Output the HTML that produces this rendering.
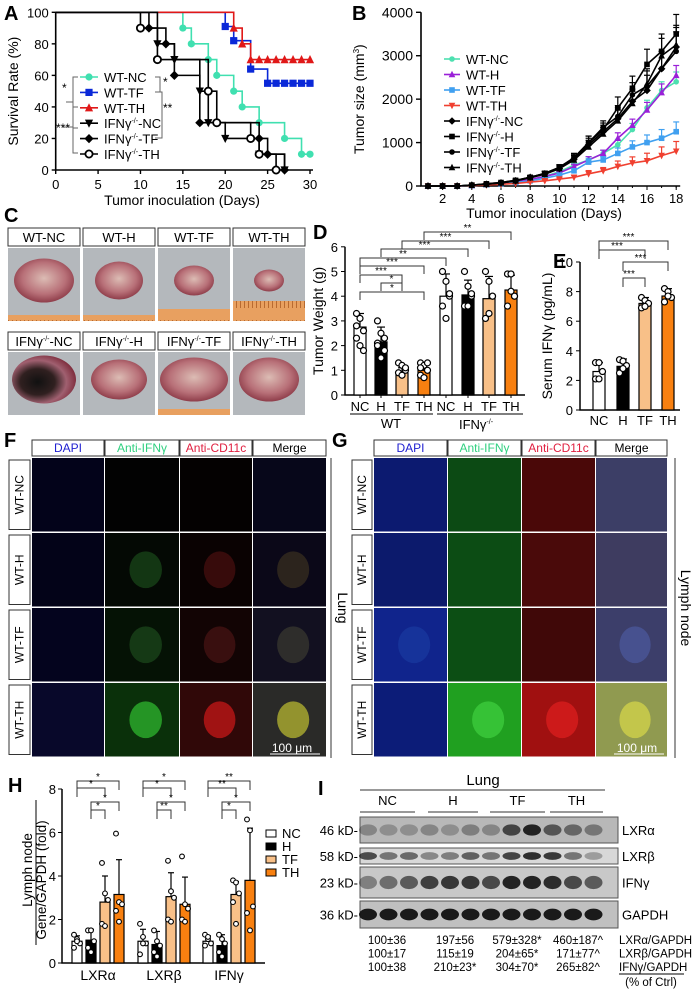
<!DOCTYPE html>
<html><head><meta charset="utf-8">
<style>
body{margin:0;background:#fff;}
svg{display:block;font-family:"Liberation Sans",Arial,sans-serif;}
</style></head>
<body>
<svg id="fig" width="696" height="995" viewBox="0 0 696 995" xmlns="http://www.w3.org/2000/svg">
<defs>
<radialGradient id="tum" cx="50%" cy="45%" r="60%"><stop offset="0" stop-color="#dcbcb4"/><stop offset="0.6" stop-color="#b87078"/><stop offset="1" stop-color="#84303e"/></radialGradient>
<radialGradient id="tumd" cx="40%" cy="55%" r="60%"><stop offset="0" stop-color="#111"/><stop offset="0.45" stop-color="#302020"/><stop offset="0.75" stop-color="#a06070"/><stop offset="1" stop-color="#803040"/></radialGradient>
<pattern id="ruler" width="4" height="20" patternUnits="userSpaceOnUse"><rect width="4" height="20" fill="#e8a060"/><rect width="1" height="8" fill="#b86a30"/></pattern>
</defs>

<g font-size="20" font-weight="bold">
<text x="4" y="20">A</text>
<text x="352" y="20">B</text>
<text x="4" y="222">C</text>
<text x="313" y="239">D</text>
<text x="553" y="268">E</text>
<text x="4" y="447">F</text>
<text x="332" y="447">G</text>
<text x="8" y="792">H</text>
<text x="318" y="795">I</text>
</g>

<g id="gA"></g>
<g id="gB"></g>
<g id="gC"></g>
<g id="gD"></g>
<g id="gE"></g>
<g id="gF"></g>
<g id="gH"></g>
<g id="gI"></g>
</svg>
<script>
// ---------- DATA ----------
const aNames = ["WT-NC","WT-TF","WT-TH","IFNγ-/--NC","IFNγ-/--TF","IFNγ-/--TH"];
const aTealT = [15,16,18,19,21,22,24,27,29];
const aTealV = [90,80,70,60,50,40,30,20,10];
const aBlueT = [20,21,23,25];
const aBlueV = [91,82,64,55];
const aRedT = [21,22,23];
const aRedV = [90,80,70];
const aKoNcT = [12,14,17,18,20,24,27];
const aKoNcV = [80,70,50,30,20,10,0];
const aKoTfT = [11,13,14,17,24,25,27];
const aKoTfV = [90,80,60,30,20,10,0];
const aKoThT = [10,12,18,19,23,24,26];
const aKoThV = [90,70,50,30,20,10,0];
const aXTicks = [0,5,10,15,20,25,30];
const aYTicks = [0,20,40,60,80,100];
const bDays = [1,2,3,4,5,6,7,8,9,10,11,12,13,14,15,16,17,18];
const bWtNc = [0,0,0,10,30,60,100,150,220,330,480,600,750,950,1300,1800,2200,2400];
const bWtH  = [0,0,0,10,30,60,100,150,220,300,450,600,750,1100,1400,1750,2150,2550];
const bWtTf = [0,0,0,10,30,50,80,120,180,250,350,550,600,750,900,1000,1100,1250];
const bWtTh = [0,0,0,10,20,40,60,90,120,160,200,280,350,450,530,580,700,800];
const bKoNc = [0,0,0,20,40,70,120,200,280,400,620,950,1250,1550,1950,2200,2700,3200];
const bKoH  = [0,0,0,20,50,80,130,200,290,430,650,1000,1300,1800,2250,2800,3100,3500];
const bKoTf = [0,0,0,20,50,80,130,200,290,430,650,1000,1350,1600,2100,2300,2700,3100];
const bKoTh = [0,0,0,20,40,70,120,190,270,400,600,900,1200,1500,1900,2350,3000,3250];
const bErr = [0,0,0,10,10,20,30,40,50,60,100,150,150,250,280,350,400,450];
const bXTicks = [2,4,6,8,10,12,14,16,18];
const bYTicks = [0,1000,2000,3000,4000];
const dCats = ["NC","H","TF","TH","NC","H","TF","TH"];
const dVals = [2.75,2.15,0.9,1.0,4.0,4.05,3.9,4.25];
const dErr  = [0.55,0.6,0.2,0.25,0.9,0.6,0.9,0.6];
const dPts = [[3.3,3.1,2.6,2.3,2.0,1.8,2.8],[3.0,2.5,2.3,2.1,1.5,1.8,2.0],[1.3,1.2,1.0,0.9,0.8,1.1],[1.3,1.2,1.0,0.8,0.7,1.3,1.1],[5.0,4.6,4.0,3.6,3.1,4.1],[5.0,4.4,4.0,3.6,3.6,4.1],[5.0,4.6,4.0,3.1,3.3,4.0],[4.9,4.9,4.0,3.6,4.2,4.0]];
const dYTicks = [0,1,2,3,4,5,6];
const eCats = ["NC","H","TF","TH"];
const eVals = [2.6,2.95,7.2,7.7];
const eErr  = [0.6,0.5,0.4,0.5];
const ePts = [[3.2,3.2,2.6,2.1,2.1],[3.4,3.3,3.0,2.5,2.8],[7.6,7.4,7.2,6.9,7.0],[8.2,8.0,7.6,7.3,7.7]];
const eYTicks = [0,2,4,6,8,10];
const hGenes = ["LXRα","LXRβ","IFNγ"];
const hGroups = ["NC","H","TF","TH"];
const hNC = [1.0,1.0,1.0];
const hH  = [1.05,0.85,0.8];
const hTF = [2.8,3.05,3.15];
const hTH = [3.15,2.7,3.8];
const hErrNC=[0.25,0.55,0.25], hErrH=[0.5,0.6,0.5], hErrTF=[1.2,1.1,0.6], hErrTH=[1.6,1.25,2.4];
const hPtsNC=[[1.3,1.1,0.9,0.7,1.0],[1.8,1.2,0.9,0.4,0.9],[1.3,1.1,0.9,0.8,1.2]];
const hPtsH =[[1.5,1.5,1.0,0.7,0.5],[1.5,1.0,0.8,0.5,0.3],[1.3,1.1,0.9,0.5,0.3]];
const hPtsTF=[[4.6,3.2,2.9,1.8,1.7],[4.7,3.3,3.0,2.0,1.9],[3.8,3.7,3.2,2.8,1.8]];
const hPtsTH=[[5.95,2.8,2.7,2.4,1.9],[4.9,2.7,2.5,2.0,1.9],[6.6,6.1,2.6,2.3,1.5]];
const hYTicks=[0,2,4,6,8];

const NS="http://www.w3.org/2000/svg";
function mk(tag,parent,attrs){const e=document.createElementNS(NS,tag);for(const k in attrs)e.setAttribute(k,attrs[k]);parent.appendChild(e);return e;}
function txt(parent,x,y,s,attrs){const t=mk('text',parent,Object.assign({x:x,y:y},attrs||{}));t.textContent=s;return t;}
function marker(g,type,x,y,col,r){
  r=r||4;let e;
  if(type==='circle') e=mk('circle',g,{cx:x,cy:y,r:r,fill:col});
  else if(type==='ocircle') e=mk('circle',g,{cx:x,cy:y,r:r,fill:'#fff',stroke:col,'stroke-width':1.8});
  else if(type==='square') e=mk('rect',g,{x:x-r,y:y-r,width:2*r,height:2*r,fill:col});
  else if(type==='tri') e=mk('path',g,{d:`M${x},${y-r-1}L${x+r+0.5},${y+r}L${x-r-0.5},${y+r}Z`,fill:col});
  else if(type==='tridown') e=mk('path',g,{d:`M${x},${y+r+1}L${x+r+0.5},${y-r}L${x-r-0.5},${y-r}Z`,fill:col});
  else e=mk('path',g,{d:`M${x},${y-r-1}L${x+r+1},${y}L${x},${y+r+1}L${x-r-1},${y}Z`,fill:col});
  return e;
}

// ---------- Panel A ----------
(function(){
const g=document.getElementById('gA');
const xA=d=>55.7+d*(310-55.7)/30, yA=v=>170-v*1.577;
const ax=mk('path',g,{d:`M${xA(0)},${yA(100)}V${yA(0)}H${xA(30)+3}`,stroke:'#000','stroke-width':1.6,fill:'none'});


aXTicks.forEach(t=>{mk('line',g,{x1:xA(t),x2:xA(t),y1:yA(0),y2:yA(0)+4,stroke:'#000','stroke-width':1.4});
 const l=txt(g,xA(t),yA(0)+19,String(t),{'font-size':13,'text-anchor':'middle'});
 
 });
aYTicks.forEach(t=>{mk('line',g,{x1:xA(0)-4,x2:xA(0),y1:yA(t),y2:yA(t),stroke:'#000','stroke-width':1.4});
 const l=txt(g,xA(0)-7,yA(t)+5,String(t),{'font-size':13,'text-anchor':'end'});
 
 });
const yt=txt(g,0,0,'Survival Rate (%)',{'font-size':14,'text-anchor':'middle',transform:`translate(18,${yA(50)}) rotate(-90)`});


const xt=txt(g,182,205,'Tumor inoculation (Days)',{'font-size':14,'text-anchor':'middle'});


const series=[[aTealT,aTealV,'#40e0b0','circle',30,[]],[aBlueT,aBlueV,'#0a28d8','square',30,[26,27,28,29,30]],[aRedT,aRedV,'#e01818','tri',30,[24,25,26,27,28,29,30]],
 [aKoNcT,aKoNcV,'#000','tridown',27,[]],[aKoTfT,aKoTfV,'#000','diamond',27,[]],[aKoThT,aKoThV,'#000','ocircle',26,[]]];
series.forEach((s,i)=>{
 const [T,V,col,mt,end,cens]=s;
 let d=`M${xA(0)},${yA(100)}`;let last=100;
 T.forEach((t,j)=>{d+=`H${xA(t)}V${yA(V[j])}`;last=V[j];});
 d+=`H${xA(end)}`;
 const p=mk('path',g,{d:d,stroke:col,'stroke-width':1.6,fill:'none'});
 
 
 T.forEach((t,j)=>{const m=marker(g,mt,xA(t),yA(V[j]),col,3.6);
  
  });
 cens.forEach(t=>{const m=marker(g,mt,xA(t),yA(last),col,3.6);
  
  });
 if(i===0){const m=marker(g,mt,xA(30),yA(last),col,3.6);
  
  }
 const ly=77+i*15.4;
 const lg=mk('g',g,{});
 
 
 mk('line',lg,{x1:80,x2:98,y1:ly,y2:ly,stroke:col,'stroke-width':1.6});
 marker(lg,mt,89,ly,col,3.6);
 const lab=txt(lg,104,ly+5,'',{'font-size':13});
 if(i<3) lab.textContent=aNames[i];
 else{lab.appendChild(document.createTextNode('IFNγ'));const sp=mk('tspan',lab,{'font-size':7,dy:-5});sp.textContent='-/-';const sp2=mk('tspan',lab,{dy:5});sp2.textContent=aNames[i].slice(-3);}
});
mk('path',g,{d:'M78,77H73V128H78 M73,102H66',stroke:'#666','stroke-width':1,fill:'none'});
mk('path',g,{d:'M78,107H73V153H78 M73,127H62',stroke:'#666','stroke-width':1,fill:'none'});
mk('path',g,{d:'M155,77H160V92H155 M155,92H162V138H155',stroke:'#666','stroke-width':1,fill:'none'});
txt(g,62,92,'*',{'font-size':12});txt(g,163,86,'*',{'font-size':12});txt(g,163,112,'**',{'font-size':12});txt(g,56,132,'***',{'font-size':12});
})();

// ---------- Panel B ----------
(function(){
const g=document.getElementById('gB');
const xB=d=>428+(d-1)*14.6, yB=v=>186-v*(186-12.3)/4000;
mk('path',g,{d:`M421,${yB(4000)}V${yB(0)}H${xB(18)+4}`,stroke:'#000','stroke-width':1.6,fill:'none'});
bXTicks.forEach(t=>{mk('line',g,{x1:xB(t),x2:xB(t),y1:186,y2:190,stroke:'#000'});
 const l=txt(g,xB(t),203,String(t),{'font-size':13,'text-anchor':'middle'});
 
 });
bDays.forEach(t=>mk('line',g,{x1:xB(t),x2:xB(t),y1:186,y2:188,stroke:'#000'}));
bYTicks.forEach(t=>{mk('line',g,{x1:416,x2:421,y1:yB(t),y2:yB(t),stroke:'#000','stroke-width':1.4});
 const l=txt(g,413,yB(t)+5,String(t),{'font-size':14,'text-anchor':'end'});
 
 });
const yt=txt(g,0,0,'Tumor size (mm',{'font-size':14,'text-anchor':'middle',transform:`translate(364,${yB(2000)}) rotate(-90)`});
const s3=mk('tspan',yt,{'font-size':8,dy:-5});s3.textContent='3';const s4=mk('tspan',yt,{dy:5});s4.textContent=')';


const xt=txt(g,544,218,'Tumor inoculation (Days)',{'font-size':14,'text-anchor':'middle'});


const S=[[bWtNc,'#4de0b0','circle','WT-NC'],[bWtH,'#9a20d8','tri','WT-H'],[bWtTf,'#40a0f0','square','WT-TF'],[bWtTh,'#f04030','tridown','WT-TH'],
 [bKoNc,'#000','diamond','NC'],[bKoH,'#000','square','H'],[bKoTf,'#000','circle','TF'],[bKoTh,'#000','tri','TH']];
S.forEach((s,i)=>{
 const [V,col,mt,name]=s;
 const sc=i<4?0.5:1;
 bDays.forEach((d,j)=>{if(bErr[j]>0)mk('line',g,{x1:xB(d),x2:xB(d),y1:yB(V[j]+bErr[j]*sc),y2:yB(V[j]),stroke:col,'stroke-width':1.2});
  if(bErr[j]>0)mk('line',g,{x1:xB(d)-3,x2:xB(d)+3,y1:yB(V[j]+bErr[j]*sc),y2:yB(V[j]+bErr[j]*sc),stroke:col,'stroke-width':1.2});});
 const p=mk('polyline',g,{points:bDays.map((d,j)=>xB(d)+','+yB(V[j])).join(' '),stroke:col,'stroke-width':1.6,fill:'none'});
 
 
 bDays.forEach((d,j)=>{const m=marker(g,mt,xB(d),yB(V[j]),col,2.8);
  
  });
 const ly=59+i*15.5;
 const lg=mk('g',g,{});
 
 
 mk('line',lg,{x1:444,x2:460,y1:ly,y2:ly,stroke:col,'stroke-width':1.6});
 marker(lg,mt,452,ly,col,2.8);
 const lab=txt(lg,466,ly+5,'',{'font-size':13});
 if(i<4)lab.textContent=name;else{lab.appendChild(document.createTextNode('IFNγ'));const sp=mk('tspan',lab,{'font-size':7,dy:-5});sp.textContent='-/-';const sp2=mk('tspan',lab,{dy:5});sp2.textContent='-'+name;}
});
})();

// ---------- Panel C ----------
(function(){
const g=document.getElementById('gC');
const cols=[[8,80],[83,155],[158,230],[233,305]];
const top=["WT-NC","WT-H","WT-TF","WT-TH"], bot=["NC","H","TF","TH"];
const szT=[[30,22],[24,19],[20,15],[15,11]], szB=[[32,24],[28,20],[34,22],[30,22]];
cols.forEach((c,i)=>{
 const w=c[1]-c[0],cx=(c[0]+c[1])/2;
 [[228,248,321,top[i],szT[i],false],[332,352,415,bot[i],szB[i],true]].forEach(r=>{
  const [ly,iy,ie,lab,sz,ko]=r;
  const bx=mk('rect',g,{x:c[0],y:ly,width:w,height:18,fill:'#fff',stroke:'#333','stroke-width':1});
  
  
  const t=txt(g,cx,ly+14,'',{'font-size':13,'text-anchor':'middle'});
  if(!ko)t.textContent=lab;else{t.appendChild(document.createTextNode('IFNγ'));const sp=mk('tspan',t,{'font-size':7,dy:-5});sp.textContent='-/-';const sp2=mk('tspan',t,{dy:5});sp2.textContent='-'+lab;}
  const ph=mk('rect',g,{x:c[0],y:iy,width:w,height:ie-iy,fill:'#b4b8bc'});
  
  
  if(!ko||i==2) mk('rect',g,{x:c[0],y:ie-(ko?6:(i==3?20:(i==2?12:6))),width:w,height:ko?6:(i==3?20:(i==2?12:6)),fill:'url(#ruler)'});
  mk('ellipse',g,{cx:cx,cy:(iy+ie)/2-4,rx:sz[0],ry:sz[1],fill:(ko&&i==0)?'url(#tumd)':'url(#tum)'});
 });
});
})();

// ---------- Panel D ----------
(function(){
const g=document.getElementById('gD');
const yD=v=>395-v*24.7; const xs=[360,381,402,424,446,468,489,511];
const fills=['#fff','#000','#f8c088','#f88010','#fff','#000','#f8c088','#f88010'];
mk('path',g,{d:`M345,${yD(6)}V395H525`,stroke:'#000','stroke-width':1.5,fill:'none'});
dYTicks.forEach(t=>{mk('line',g,{x1:341,x2:345,y1:yD(t),y2:yD(t),stroke:'#000'});
 const l=txt(g,338,yD(t)+5,String(t),{'font-size':13,'text-anchor':'end'});
 
 });
const yt=txt(g,0,0,'Tumor Weight (g)',{'font-size':14,'text-anchor':'middle',transform:`translate(323,${yD(3)}) rotate(-90)`});


dVals.forEach((v,i)=>{
 mk('line',g,{x1:xs[i],x2:xs[i],y1:yD(v+dErr[i]),y2:yD(v),stroke:'#000','stroke-width':1.2});
 mk('line',g,{x1:xs[i]-4,x2:xs[i]+4,y1:yD(v+dErr[i]),y2:yD(v+dErr[i]),stroke:'#000','stroke-width':1.2});
 const b=mk('rect',g,{x:xs[i]-6,y:yD(v),width:12,height:395-yD(v),fill:fills[i],stroke:'#000','stroke-width':1.2});
 
 
 dPts[i].forEach((p,j)=>{const c=mk('circle',g,{cx:xs[i]+((j%3)-1)*3.5,cy:yD(p),r:3,fill:'#fff',stroke:'#000','stroke-width':1.2});
  
  });
 mk('line',g,{x1:xs[i],x2:xs[i],y1:395,y2:398,stroke:'#000'});
 const l=txt(g,xs[i],411,dCats[i],{'font-size':13,'text-anchor':'middle'});
 
 
});
mk('line',g,{x1:350,x2:433,y1:414,y2:414,stroke:'#000'});mk('line',g,{x1:437,x2:523,y1:414,y2:414,stroke:'#000'});
txt(g,391,428,'WT',{'font-size':13,'text-anchor':'middle'});
const k=txt(g,476,429,'IFNγ',{'font-size':13,'text-anchor':'middle'});const ks=mk('tspan',k,{'font-size':7,dy:-5});ks.textContent='-/-';
const br=[[360,424,292,'*'],[381,402,283,'*'],[360,402,275,'***'],[360,424,266,'***'],[360,446,258,'**'],[381,468,249,'***'],[402,489,241,'***'],[424,511,232,'**']];
br.forEach(b=>{mk('path',g,{d:`M${b[0]},${b[2]+8}V${b[2]}H${b[1]}V${b[2]+8}`,stroke:'#333',fill:'none','stroke-width':1});txt(g,(b[0]+b[1])/2,b[2]-1,b[3],{'font-size':10,'text-anchor':'middle'});});
})();

// ---------- Panel E ----------
(function(){
const g=document.getElementById('gE');
const yE=v=>410-v*14.8; const xs=[599,623,645,668]; const fills=['#fff','#000','#f8c088','#f88010'];
mk('path',g,{d:`M580,${yE(10)}V410H680`,stroke:'#000','stroke-width':1.5,fill:'none'});
eYTicks.forEach(t=>{mk('line',g,{x1:576,x2:580,y1:yE(t),y2:yE(t),stroke:'#000'});
 const l=txt(g,573,yE(t)+5,String(t),{'font-size':13,'text-anchor':'end'});
 
 });
const yt=txt(g,0,0,'Serum IFNγ (pg/mL)',{'font-size':14,'text-anchor':'middle',transform:`translate(552,${yE(5)}) rotate(-90)`});


eVals.forEach((v,i)=>{
 mk('line',g,{x1:xs[i],x2:xs[i],y1:yE(v+eErr[i]),y2:yE(v),stroke:'#000','stroke-width':1.2});
 mk('line',g,{x1:xs[i]-4,x2:xs[i]+4,y1:yE(v+eErr[i]),y2:yE(v+eErr[i]),stroke:'#000','stroke-width':1.2});
 const b=mk('rect',g,{x:xs[i]-6,y:yE(v),width:12,height:410-yE(v),fill:fills[i],stroke:'#000','stroke-width':1.2});
 
 
 ePts[i].forEach((p,j)=>{const c=mk('circle',g,{cx:xs[i]+((j%3)-1)*3.5,cy:yE(p),r:3,fill:'#fff',stroke:'#000','stroke-width':1.2});
  
  });
 const l=txt(g,xs[i],425,eCats[i],{'font-size':13,'text-anchor':'middle'});
 
 
});
const br=[[623,645,278],[623,668,262],[599,645,250],[599,668,241]];
br.forEach(b=>{mk('path',g,{d:`M${b[0]},${b[2]+9}V${b[2]}H${b[1]}V${b[2]+9}`,stroke:'#333',fill:'none','stroke-width':1});txt(g,(b[0]+b[1])/2-5,b[2]-1,'***',{'font-size':10,'text-anchor':'middle'});});
})();

// ---------- Panels F & G ----------
(function(){
const g=document.getElementById('gF');
const heads=['DAPI','Anti-IFNγ','Anti-CD11c','Merge'], hcol=['#2020d0','#30d080','#e02040','#000'];
const rows=['WT-NC','WT-H','WT-TF','WT-TH'];
function panel(colsX,rowsY,labX,labW,base,bright){
 colsX.slice(0,4).forEach((x,i)=>{
  const w=colsX[i+1]-x-1;
  const hb=mk('rect',g,{x:x,y:440,width:w,height:16,fill:'#fff',stroke:'#333'});
  
  
  txt(g,x+w/2,452,heads[i],{'font-size':12,'text-anchor':'middle',fill:hcol[i]});
 });
 rowsY.slice(0,4).forEach((y,r)=>{
  const h=rowsY[r+1]-y-1.5;
  const lb=mk('rect',g,{x:labX,y:y+2,width:labW,height:h-4,fill:'#fff',stroke:'#333'});
  
  
  txt(g,0,0,rows[r],{'font-size':12,'text-anchor':'middle',transform:`translate(${labX+labW/2+4},${y+h/2}) rotate(-90)`});
  colsX.slice(0,4).forEach((x,i)=>{
   const w=colsX[i+1]-x-1;
   const im=mk('rect',g,{x:x,y:y,width:w,height:h,fill:base[r][i]});
   
   
   const bc=bright[r][i];
   if(bc){mk('ellipse',g,{cx:x+w*0.55,cy:y+h*0.5,rx:w*0.22,ry:h*0.25,fill:bc,opacity:0.7});}
  });
 });
}
const fRows=[458,533,608,683,758];
panel([32,105,180,253,327],fRows,9,21,
 [['#03031a','#020202','#040101','#07071a'],['#030318','#040904','#0a0202','#0b0818'],['#04041e','#051205','#120404','#121020'],['#08082a','#0a300a','#300808','#2a2a28']],
 [[0,0,0,0],[0,'#1a4a1a','#4a1010','#3a3020'],[0,'#1c4a1c','#4a1414','#3a3a30'],[0,'#30c030','#d01818','#c0c030']]);
panel([374,448,522,596,668],fRows,352,20,
 [['#0c1a70','#0c4a14','#4a0808','#3c3e66'],['#0c1a6c','#0c4c14','#4a0a0a','#3e3c60'],['#10248c','#0c4e14','#400808','#3c3e6a'],['#0c1c78','#20a020','#a01010','#909a50']],
 [[0,0,0,0],[0,0,0,0],['#1a3aa0',0,0,'#4c5aa0'],[0,'#40d040','#e02020','#d8d848']]);
mk('line',g,{x1:331,x2:331,y1:458,y2:758,stroke:'#333'});
txt(g,0,0,'Lung',{'font-size':14,'text-anchor':'middle',transform:`translate(338,608) rotate(90)`});
mk('line',g,{x1:675,x2:675,y1:458,y2:758,stroke:'#333'});
txt(g,0,0,'Lymph node',{'font-size':14,'text-anchor':'middle',transform:`translate(681,608) rotate(90)`});
txt(g,292,752,'100 μm',{'font-size':12,'text-anchor':'middle',fill:'#fff'});mk('line',g,{x1:270,x2:320,y1:754,y2:754,stroke:'#fff'});
txt(g,637,752,'100 μm',{'font-size':12,'text-anchor':'middle',fill:'#fff'});mk('line',g,{x1:614,x2:664,y1:754,y2:754,stroke:'#fff'});
})();

// ---------- Panel H ----------
(function(){
const g=document.getElementById('gH');
const yH=v=>963-v*21.75;
const cx=[[77,91,105,119],[143,157,171,185],[208,222,236,250]];
const fills=['#fff','#000','#f8c088','#f88010'];
const V=[hNC,hH,hTF,hTH], E=[hErrNC,hErrH,hErrTF,hErrTH], P=[hPtsNC,hPtsH,hPtsTF,hPtsTH];
mk('path',g,{d:`M62,${yH(8)}V963H265`,stroke:'#000','stroke-width':1.5,fill:'none'});
hYTicks.forEach(t=>{mk('line',g,{x1:58,x2:62,y1:yH(t),y2:yH(t),stroke:'#000'});
 const l=txt(g,56,yH(t)+5,String(t),{'font-size':13,'text-anchor':'end'});
 
 });
const t1=txt(g,0,0,'Lymph node',{'font-size':13.5,'text-anchor':'middle',transform:`translate(32,870) rotate(-90)`});


txt(g,0,0,'Gene/GAPDH (fold)',{'font-size':13.5,'text-anchor':'middle',transform:`translate(46,880) rotate(-90)`});
mk('line',g,{x1:36,x2:36,y1:800,y2:945,stroke:'#000'});
hGenes.forEach((gn,k)=>{
 for(let i=0;i<4;i++){
  const v=V[i][k],x=cx[k][i];
  mk('line',g,{x1:x,x2:x,y1:yH(v+E[i][k]),y2:yH(v),stroke:'#000','stroke-width':1.2});
  mk('line',g,{x1:x-3,x2:x+3,y1:yH(v+E[i][k]),y2:yH(v+E[i][k]),stroke:'#000','stroke-width':1.2});
  const b=mk('rect',g,{x:x-5,y:yH(v),width:10,height:963-yH(v),fill:fills[i],stroke:'#000','stroke-width':1.2});
  
  
  P[i][k].forEach((p,j)=>{const c=mk('circle',g,{cx:x+((j%3)-1)*3,cy:yH(p),r:2.4,fill:'#fff',stroke:'#000','stroke-width':1.1});
   
   });
 }
 const l=txt(g,(cx[k][0]+cx[k][3])/2,980,gn,{'font-size':14,'text-anchor':'middle'});
 
 
 const stars=[['*','*','*','*'],['*','*','*','**'],['**','**','*','*']][k];
 const bs=[[0,3,781],[0,2,788],[1,3,802],[1,2,810]];
 bs.forEach((b,j)=>{const x1=cx[k][b[0]],x2=cx[k][b[1]];mk('path',g,{d:`M${x1},${b[2]+9}V${b[2]}H${x2}V${b[2]+9}`,stroke:'#333',fill:'none','stroke-width':1});txt(g,(x1+x2)/2,b[2]-1,stars[j],{'font-size':10,'text-anchor':'middle'});});
});
hGroups.forEach((n,i)=>{const y=835+i*13;
 const lg=mk('g',g,{});
 
 
 mk('rect',lg,{x:266,y:y-5,width:10,height:7,fill:fills[i],stroke:'#000'});
 txt(lg,282,y+3,n,{'font-size':13});});
})();

// ---------- Panel I ----------
(function(){
const g=document.getElementById('gI');
txt(g,483,785,'Lung',{'font-size':15,'text-anchor':'middle'});
mk('line',g,{x1:360,x2:605,y1:790,y2:790,stroke:'#333'});
const grp=[['NC',360,415],['H',428,478],['TF',490,545],['TH',550,603]];
grp.forEach(q=>{txt(g,(q[1]+q[2])/2,805,q[0],{'font-size':13,'text-anchor':'middle'});mk('line',g,{x1:q[1],x2:q[2],y1:812,y2:812,stroke:'#333'});});
const rows=[['LXRα','46 kD',817,843,'#b8b8b8',[0.3,0.25,0.25,0.3,0.25,0.35,0.3,0.7,0.9,0.6,0.5,0.4]],
 ['LXRβ','58 kD',848,864,'#d8d8d8',[0.7,0.5,0.55,0.4,0.45,0.6,0.5,0.75,0.85,0.8,0.5,0.3]],
 ['IFNγ','23 kD',867,898,'#c8c8c8',[0.4,0.5,0.6,0.75,0.8,0.8,0.7,0.9,0.9,0.85,0.7,0.6]],
 ['GAPDH','36 kD',901,928,'#c0c0c0',[0.95,0.95,0.95,0.95,0.95,0.95,0.95,0.95,0.95,0.95,0.95,0.95]]];
rows.forEach(r=>{
 const bl=mk('rect',g,{x:360,y:r[2],width:258,height:r[3]-r[2],fill:r[4],stroke:'#555'});
 
 
 r[5].forEach((a,i)=>mk('ellipse',g,{cx:368+i*20.5,cy:(r[2]+r[3])/2,rx:9,ry:(r[3]-r[2])*0.18+1,fill:'#111',opacity:a}));
 txt(g,622,(r[2]+r[3])/2+5,r[0],{'font-size':13});
 txt(g,358,(r[2]+r[3])/2+5,r[1]+'-',{'font-size':13,'text-anchor':'end'});
});
const nums=[['100±36','197±56','579±328*','460±187^','LXRα/GAPDH'],['100±17','115±19','204±65*','171±77^','LXRβ/GAPDH'],['100±38','210±23*','304±70*','265±82^','IFNγ/GAPDH']];
const nx=[387,455,517,578];
nums.forEach((row,k)=>{const y=944+k*13.5;row.slice(0,4).forEach((s,i)=>txt(g,nx[i],y,s,{'font-size':11.5,'text-anchor':'middle'}));txt(g,619,y,row[4],{'font-size':11.5});});
mk('line',g,{x1:619,x2:684,y1:974,y2:974,stroke:'#000'});
txt(g,651,986,'(% of Ctrl)',{'font-size':11.5,'text-anchor':'middle'});
})();
</script>
</body></html>
